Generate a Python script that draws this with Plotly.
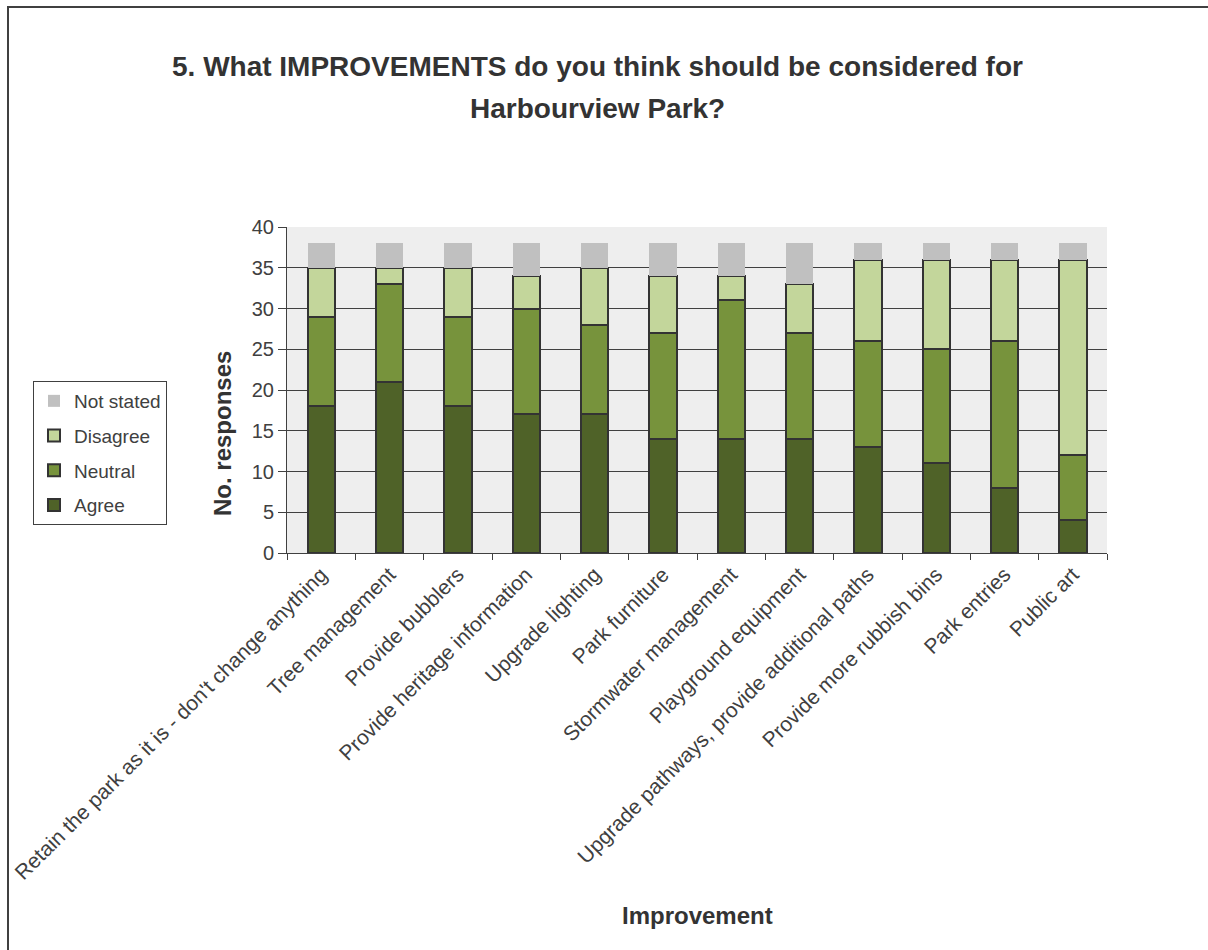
import plotly.graph_objects as go

# Survey question 5: responses per suggested improvement
improvements = [
    "Retain the park as it is - don't change anything",
    "Tree management",
    "Provide bubblers",
    "Provide heritage information",
    "Upgrade lighting",
    "Park furniture",
    "Stormwater management",
    "Playground equipment",
    "Upgrade pathways, provide additional paths",
    "Provide more rubbish bins",
    "Park entries",
    "Public art",
]
agree      = [18, 21, 18, 17, 17, 14, 14, 14, 13, 11,  8,  4]
neutral    = [11, 12, 11, 13, 11, 13, 17, 13, 13, 14, 18,  8]
disagree   = [ 6,  2,  6,  4,  7,  7,  3,  6, 10, 11, 10, 24]
not_stated = [ 3,  3,  3,  4,  3,  4,  4,  5,  2,  2,  2,  2]

y_ticks = [0, 5, 10, 15, 20, 25, 30, 35, 40]

title_lines = [
    "5. What IMPROVEMENTS do you think should be considered for",
    "Harbourview Park?",
]

W, H = 1208, 950
PL, PR, PT, PB = 287, 101, 227, 397   # plot-area margins in px
plot_w = W - PL - PR
plot_h = H - PT - PB


def px_x(px):
    return (px - PL) / plot_w


def px_y(py):
    return (H - PB - py) / plot_h


# name, values, fill, outline width, legend rank (top of stack listed first)
series = [
    ("Agree", agree, "#4F6228", 2, 4),
    ("Neutral", neutral, "#77933C", 2, 3),
    ("Disagree", disagree, "#C3D69B", 2, 2),
    ("Not stated", not_stated, "#C0C0C0", 0, 1),
]

fig = go.Figure()
for name, vals, color, lw, rank in series:
    fig.add_trace(go.Bar(
        x=improvements,
        y=vals,
        name=name,
        legendgroup=name,
        legendrank=rank,
        marker=dict(color=color, line=dict(color="#333333", width=lw)),
        width=0.4,
    ))

annotations = [
    dict(
        text="<b>No. responses</b>",
        xref="paper", yref="paper",
        x=px_x(222), y=px_y(434),
        xanchor="center", yanchor="middle",
        textangle=-90,
        showarrow=False,
        font=dict(size=24, color="#333333"),
    ),
    dict(
        text="<b>Improvement</b>",
        xref="paper", yref="paper",
        x=px_x(697), y=px_y(915),
        xanchor="center", yanchor="middle",
        showarrow=False,
        font=dict(size=24, color="#333333"),
    ),
]
for line, cy in zip(title_lines, [67, 108]):
    annotations.append(dict(
        text=f"<b>{line}</b>",
        xref="paper", yref="paper",
        x=px_x(597), y=px_y(cy),
        xanchor="center", yanchor="middle",
        showarrow=False,
        font=dict(size=28, color="#333333"),
    ))

fig.update_layout(
    width=W,
    height=H,
    barmode="stack",
    paper_bgcolor="white",
    plot_bgcolor="#EEEEEE",
    margin=dict(l=PL, r=PR, t=PT, b=PB, autoexpand=False),
    font=dict(family="Liberation Sans, Arial, sans-serif", color="#404040"),
    showlegend=True,
    legend=dict(
        traceorder="grouped",
        x=px_x(33),
        xanchor="left",
        y=px_y(381),
        yanchor="top",
        bgcolor="white",
        bordercolor="#404040",
        borderwidth=1,
        font=dict(size=19, color="#404040"),
        tracegroupgap=7,
        itemwidth=30,
    ),
    xaxis=dict(
        type="category",
        tickangle=-45,
        tickfont=dict(size=21, color="#404040"),
        ticks="outside",
        tickson="boundaries",
        ticklen=6,
        tickcolor="#404040",
        showline=True,
        linecolor="#404040",
        linewidth=1,
        showgrid=False,
    ),
    yaxis=dict(
        range=[0, 40],
        tickvals=y_ticks,
        tickfont=dict(size=20, color="#404040"),
        ticks="outside",
        ticklen=8,
        tickcolor="#404040",
        showline=True,
        linecolor="#404040",
        linewidth=1,
        showgrid=True,
        gridcolor="#404040",
        gridwidth=1,
        zeroline=False,
    ),
    annotations=annotations,
    shapes=[
        # outer chart frame
        dict(
            type="rect", xref="paper", yref="paper",
            x0=px_x(8), x1=px_x(W + 20),
            y0=px_y(H + 20), y1=px_y(7),
            line=dict(color="#404040", width=2),
            fillcolor="rgba(0,0,0,0)",
            layer="below",
        ),
    ],
)

fig.write_html("out.html")
